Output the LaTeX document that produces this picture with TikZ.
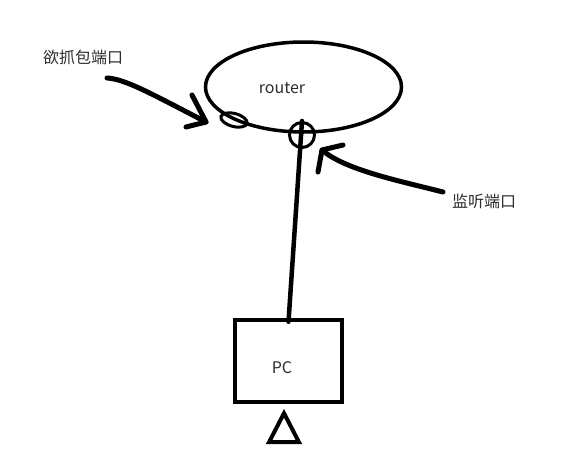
\documentclass[tikz,border=0pt]{standalone}
\usepackage{fontspec}
\setmainfont{Noto Sans CJK SC}
\usetikzlibrary{shapes.geometric}
\definecolor{txt}{RGB}{45,45,45}
\tikzset{
  lbl/.style={text=txt, font=\fontsize{16}{18}\selectfont, inner sep=0pt},
  stroke/.style={line width=5pt, line cap=round, line join=round},
  part/.style={draw, inner sep=0pt},
}
\begin{document}
\begin{tikzpicture}[x=1pt,y=-1pt]
\useasboundingbox[fill=white] (0,0) rectangle (576,472);
% router
\node[part, ellipse, line width=3.5pt, minimum width=196pt, minimum height=90pt] (router) at (303.5,87) {};
\node[lbl] (routerlabel) at (282,88) {router};
% ports
\node[part, ellipse, rotate=-15, line width=3pt, minimum width=27pt, minimum height=13pt] (capport) at (234,120) {};
\node[part, circle, line width=3pt, minimum size=25pt] (monport) at (302,135) {};
% PC
\node[part, rectangle, line width=4.5pt, minimum width=107pt, minimum height=82pt] (pc) at (288.5,361) {};
\node[lbl] (pclabel) at (282,368) {PC};
\node[part, isosceles triangle, isosceles triangle stretches, shape border rotate=90, line width=4pt, minimum width=30pt, minimum height=29pt, anchor=apex] (stand) at (284,408) {};
% link
\draw[stroke, line width=4.5pt] (monport.north) -- ([yshift=-4pt]pc.north);
% labels
\node[lbl] (caplabel) at (83,57) {欲抓包端口};
\node[lbl] (monlabel) at (484,201) {监听端口};
% left arrow
\coordinate (a1s) at (107,78);
\coordinate (a1t) at (206,122);
\draw[stroke] (a1s) .. controls (125,79) and (150,93) .. (a1t);
\draw[stroke] (192,95) -- (a1t) -- (186,127);
% right arrow
\coordinate (a2s) at (443,192);
\coordinate (a2t) at (322,150);
\draw[stroke] (a2s) .. controls (400,181) and (345,170) .. (a2t);
\draw[stroke] (343,145) -- (a2t) -- (318,172);
\end{tikzpicture}
\end{document}
